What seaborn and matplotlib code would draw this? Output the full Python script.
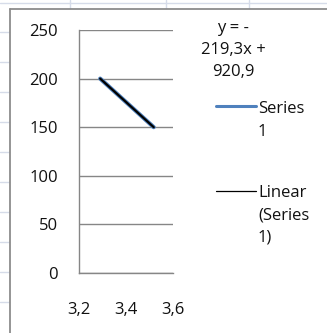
import numpy as np
import pandas as pd
import seaborn as sns
import matplotlib.pyplot as plt
from matplotlib.lines import Line2D

# data
x_vals = [3.29, 3.518]
y_vals = [200, 150]
x_ticks = [3.2, 3.4, 3.6]
x_labels = ['3,2', '3,4', '3,6']
y_ticks = [0, 50, 100, 150, 200, 250]
series_name = 'Series 1'
trend_name = 'Linear (Series 1)'
equation = 'y = -\n219,3x +\n920,9'

sns.set_theme(style='white')
plt.rcParams['font.family'] = ['Open Sans', 'DejaVu Sans']

df = pd.DataFrame({'x': x_vals, 'y': y_vals})
coef = np.polyfit(df.x, df.y, 1)
df['trend'] = np.polyval(coef, df.x)

fig = plt.figure(figsize=(3.27, 3.33), dpi=100)

# spreadsheet behind the chart
grid_c = '#d6dce9'
W, H = 327, 333
for yy in [3, 32, 62, 92, 122, 152, 182, 212, 242, 272, 302]:
    fig.add_artist(Line2D([0, 9 / W if yy > 8 else 1], [1 - yy / H] * 2, color=grid_c, lw=1))
for xx in [70, 166, 249]:
    fig.add_artist(Line2D([xx / W] * 2, [1, 1 - 8 / H], color=grid_c, lw=1))
fig.add_artist(Line2D([10 / W, 1], [1 - 9 / H] * 2, color='#8c8c8c', lw=1.3))
fig.add_artist(Line2D([10 / W] * 2, [0, 1 - 9 / H], color='#8c8c8c', lw=1.3))

ax = fig.add_axes([79 / W, 1 - 273 / H, 94 / W, 243 / H])
ax.patch.set_alpha(0)

sns.lineplot(data=df, x='x', y='y', color='#4f81bd', linewidth=3.0, ax=ax,
             solid_capstyle='round', legend=False)
sns.lineplot(data=df, x='x', y='trend', color='black', linewidth=1.6, ax=ax, legend=False)

ax.set_xlim(3.2, 3.6)
ax.set_ylim(0, 250)
ax.set_xticks(x_ticks)
ax.set_xticklabels(x_labels)
ax.set_yticks(y_ticks)
ax.set_xlabel('')
ax.set_ylabel('')
ax.grid(axis='y', color='#868686', lw=1)
for s in ['top', 'right']:
    ax.spines[s].set_visible(False)
for s in ['left', 'bottom']:
    ax.spines[s].set_color('#868686')
    ax.spines[s].set_linewidth(1)
ax.tick_params(axis='both', direction='out', length=5, width=1, color='#868686',
               labelsize=12, labelcolor='#111111')
ax.tick_params(axis='x', pad=16)
ax.tick_params(axis='y', pad=10)

txt = dict(fontsize=12, color='#111111', linespacing=1.53)

# trendline equation
fig.text(233 / W, 1 - 50 / H, equation, ha='center', va='center', **txt)

# legend
fig.add_artist(Line2D([216 / W, 256 / W], [1 - 106 / H] * 2, color='#4f81bd', lw=2.2))
fig.text(258 / W, 1 - 120.5 / H, 'Series\n1', ha='left', va='center', **txt)
fig.add_artist(Line2D([216 / W, 256 / W], [1 - 191 / H] * 2, color='black', lw=0.9))
fig.text(258 / W, 1 - 215 / H, 'Linear\n(Series\n1)', ha='left', va='center', **txt)

fig.savefig('out.png', dpi=100)
